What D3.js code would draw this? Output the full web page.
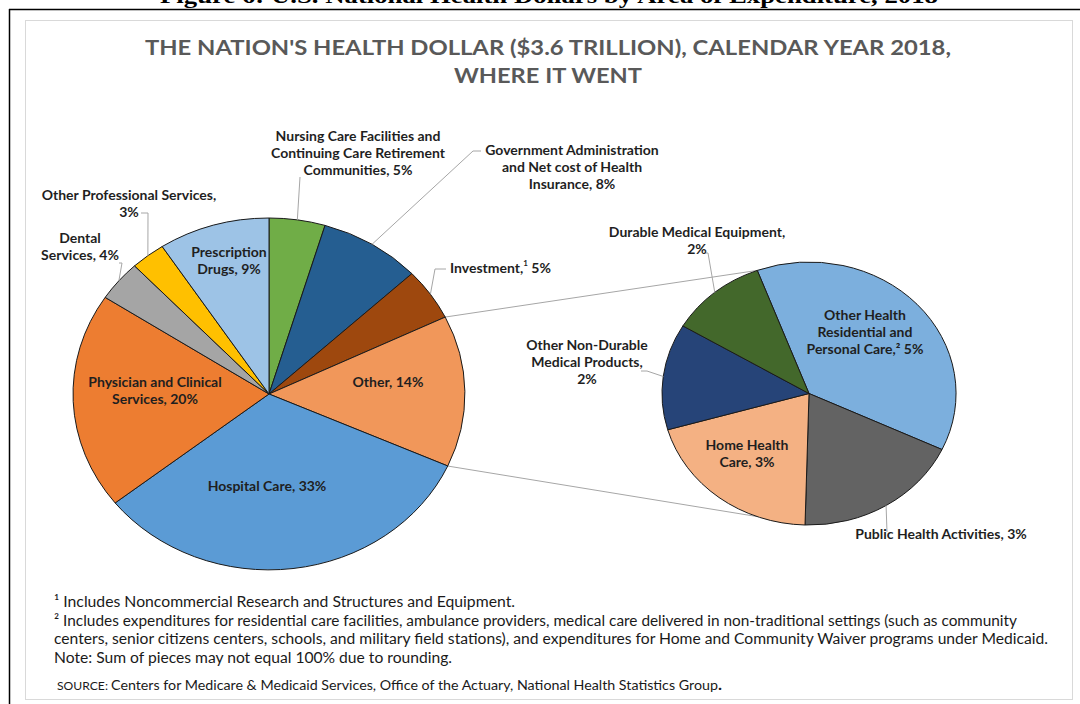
<!DOCTYPE html>
<html>
<head>
<meta charset="utf-8">
<script src="https://cdn.jsdelivr.net/npm/d3@7"></script>
<style>
  body { margin: 0; background: #fff; }
  svg { display: block; font-family: Lato, "Open Sans", sans-serif; }
  .lbl { font-weight: 700; font-size: 14px; fill: #1f1f1f; }
  .note { font-size: 14.5px; fill: #1a1a1a; }
</style>
</head>
<body>
<svg id="chart" width="1080" height="704"></svg>
<script>
// main pie: where it went (billions of dollars, 2018)
const mainNames = ["Nursing Care", "Government Administration", "Investment", "Other",
                   "Hospital Care", "Physician and Clinical Services", "Dental Services",
                   "Other Professional Services", "Prescription Drugs"];
const mainValues = [168.5, 306.0, 175.0, 507.8, 1191.8, 725.6, 135.6, 103.9, 335.0];
const mainColors = ["#70ad47", "#255e91", "#9e480e", "#f1975a", "#5b9bd5",
                    "#ed7d31", "#a5a5a5", "#ffc000", "#9dc3e6"];
const mainLabels = [
  ["Nursing Care Facilities and", "Continuing Care Retirement", "Communities, 5%"],
  ["Government Administration", "and Net cost of Health", "Insurance, 8%"],
  ["Investment,|1| 5%"],
  ["Other, 14%"],
  ["Hospital Care, 33%"],
  ["Physician and Clinical", "Services, 20%"],
  ["Dental", "Services, 4%"],
  ["Other Professional Services,", "3%"],
  ["Prescription", "Drugs, 9%"]
];

// breakdown of "Other"
const otherNames = ["Other Health Residential and Personal Care", "Public Health Activities",
                    "Home Health Care", "Other Non-Durable Medical Products", "Durable Medical Equipment"];
const otherValues = [191.6, 93.5, 102.2, 66.2, 54.3];
const otherColors = ["#7cafdd", "#636363", "#f4b183", "#264478", "#43682b"];
const otherLabels = [
  ["Other Health", "Residential and", "Personal Care,\u00b2 5%"],
  ["Public Health Activities, 3%"],
  ["Home Health", "Care, 3%"],
  ["Other Non-Durable", "Medical Products,", "2%"],
  ["Durable Medical Equipment,", "2%"]
];

const notes = [
  "\u00b9 Includes Noncommercial Research and Structures and Equipment.",
  "\u00b2 Includes expenditures for residential care facilities, ambulance providers, medical care delivered in non-traditional settings (such as community",
  "centers, senior citizens centers, schools, and military field stations), and expenditures for Home and Community Waiver programs under Medicaid.",
  "Note: Sum of pieces may not equal 100% due to rounding."
];
const noteWidths = [461, 963, 994, 398];

const svg = d3.select("#chart");

// frame of the scanned page
svg.append("line").attr("x1", 9).attr("y1", 9.5).attr("x2", 1080).attr("y2", 9.5)
   .attr("stroke", "#000").attr("stroke-width", 1.5);
svg.append("line").attr("x1", 9.5).attr("y1", 9).attr("x2", 9.5).attr("y2", 704)
   .attr("stroke", "#000").attr("stroke-width", 1.5);
svg.append("text")
   .attr("x", 549).attr("y", 3)
   .attr("text-anchor", "middle")
   .attr("font-family", "'Liberation Serif', serif").attr("font-weight", 700)
   .attr("font-size", 22).attr("textLength", 778).attr("lengthAdjust", "spacingAndGlyphs")
   .text("Figure 6: U.S. National Health Dollars by Area of Expenditure, 2018");
svg.append("rect").attr("x", 25.5).attr("y", 20.5).attr("width", 1047).attr("height", 679)
   .attr("fill", "#fff").attr("stroke", "#d9d9d9");

// title
const title = svg.append("text").attr("text-anchor", "middle")
   .attr("font-weight", 700).attr("font-size", 21.5).attr("fill", "#595959");
title.append("tspan").attr("x", 548).attr("y", 55)
   .attr("textLength", 806).attr("lengthAdjust", "spacingAndGlyphs")
   .text("THE NATION'S HEALTH DOLLAR ($3.6 TRILLION), CALENDAR YEAR 2018,");
title.append("tspan").attr("x", 548).attr("y", 83)
   .attr("textLength", 188).attr("lengthAdjust", "spacingAndGlyphs")
   .text("WHERE IT WENT");

// pie geometry (the scan is stretched a little sideways, so each pie is an ellipse)
const mainPie = {cx: 269, cy: 394, rx: 196, ry: 176, start: 0};
const otherPie = {cx: 809, cy: 393.5, rx: 147, ry: 131.5, start: -20.6 * Math.PI / 180};

function edge(p, a, k = 1) {
  return [p.cx + p.rx * k * Math.sin(a), p.cy - p.ry * k * Math.cos(a)];
}

const mainArcs = d3.pie().sort(null)
   .startAngle(mainPie.start).endAngle(mainPie.start + 2 * Math.PI)(mainValues);
const otherArcs = d3.pie().sort(null)
   .startAngle(otherPie.start).endAngle(otherPie.start + 2 * Math.PI)(otherValues);

// connector lines between "Other" and the second pie
const otherSlice = mainArcs[3];
const connectors = [
  [edge(mainPie, otherSlice.startAngle), edge(otherPie, otherPie.start)],
  [edge(mainPie, otherSlice.endAngle), edge(otherPie, Math.PI - otherPie.start)]
];
svg.selectAll("line.connector").data(connectors).join("line")
   .attr("class", "connector")
   .attr("x1", d => d[0][0]).attr("y1", d => d[0][1])
   .attr("x2", d => d[1][0]).attr("y2", d => d[1][1])
   .attr("stroke", "#a6a6a6").attr("stroke-width", 1);

const arc = d3.arc().innerRadius(0).outerRadius(1);

function drawPie(p, arcs, colors) {
  svg.append("g")
     .attr("transform", `translate(${p.cx},${p.cy}) scale(${p.rx},${p.ry})`)
     .selectAll("path").data(arcs).join("path")
     .attr("d", arc)
     .attr("fill", (d, i) => colors[i])
     .attr("stroke", "#1a1a1a").attr("stroke-width", 1)
     .attr("vector-effect", "non-scaling-stroke");
}
drawPie(mainPie, mainArcs, mainColors);
drawPie(otherPie, otherArcs, otherColors);

// label placement: anchor point of first line, plus elbow points of leader lines
const mainPlace = [
  {x: 358, y: 141, elbow: [[300, 177]]},
  {x: 572, y: 155, elbow: [[473, 151], [481, 151]]},
  {x: 450, y: 273, anchor: "start", elbow: [[435, 269], [446, 269]]},
  {x: 388, y: 387},
  {x: 267, y: 491},
  {x: 155, y: 387},
  {x: 80, y: 243, elbow: [[122, 263], [119, 263]]},
  {x: 129, y: 200, elbow: [[148, 213], [141, 213]]},
  {x: 229, y: 257}
];
const otherPlace = [
  {x: 865, y: 320},
  {x: 941, y: 539, elbow: [[887, 532]]},
  {x: 747, y: 450},
  {x: 587, y: 350, elbow: [[647, 371], [641, 371]]},
  {x: 697, y: 237, elbow: [[708, 253], [704, 253]]}
];

const lineGap = 16.8;

function drawLabels(p, arcs, labels, place) {
  arcs.forEach((d, i) => {
    const pl = place[i];
    if (pl.elbow) {
      const mid = (d.startAngle + d.endAngle) / 2;
      const pts = [edge(p, mid)].concat(pl.elbow);
      svg.append("path")
         .attr("d", d3.line()(pts))
         .attr("fill", "none").attr("stroke", "#a6a6a6").attr("stroke-width", 1);
    }
    const t = svg.append("text").attr("class", "lbl")
       .attr("text-anchor", pl.anchor || "middle");
    labels[i].forEach((ln, j) => {
      const ts = t.append("tspan").attr("x", pl.x).attr("y", pl.y + j * lineGap);
      const parts = ln.split("|");
      if (parts.length === 3) {
        ts.append("tspan").text(parts[0]);
        ts.append("tspan").attr("font-size", 8).attr("dy", -7).text(parts[1]);
        ts.append("tspan").attr("dy", 7).text(parts[2]);
      } else {
        ts.text(ln);
      }
    });
  });
}
drawLabels(mainPie, mainArcs, mainLabels, mainPlace);
drawLabels(otherPie, otherArcs, otherLabels, otherPlace);

// footnotes
svg.append("g").selectAll("text").data(notes).join("text")
   .attr("class", "note")
   .attr("x", 54)
   .attr("y", (d, i) => 607 + i * 18.7)
   .attr("textLength", (d, i) => noteWidths[i])
   .attr("lengthAdjust", "spacingAndGlyphs")
   .text(d => d);

const src = svg.append("text").attr("x", 57).attr("y", 690)
   .attr("font-size", 13.5).attr("fill", "#1a1a1a")
   .attr("textLength", 665).attr("lengthAdjust", "spacingAndGlyphs");
src.append("tspan").attr("font-size", 11.5).text("SOURCE: ");
src.append("tspan").text("Centers for Medicare & Medicaid Services, Office of the Actuary, National Health Statistics Group");
src.append("tspan").attr("font-weight", 700).attr("font-size", 16).text(".");
</script>
</body>
</html>
